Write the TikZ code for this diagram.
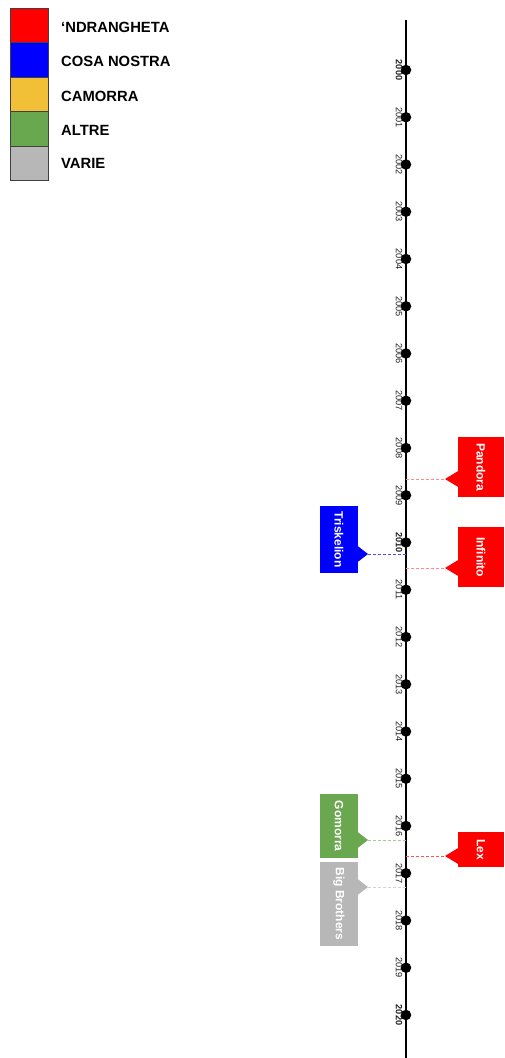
\documentclass[tikz,border=0pt]{standalone}
\usepackage{fontspec}
\setmainfont{Liberation Sans}
\definecolor{cNdr}{HTML}{FF0000}
\definecolor{cCosa}{HTML}{0000FF}
\definecolor{cCam}{HTML}{F2C037}
\definecolor{cAltre}{HTML}{6AA84F}
\definecolor{cVarie}{HTML}{B7B7B7}
\definecolor{cNdrL}{HTML}{FF8A8A}
\definecolor{cCosaL}{HTML}{4A4AFF}
\definecolor{cAltreL}{HTML}{A9CB9A}
\definecolor{cVarieL}{HTML}{D3D3D3}
\definecolor{cYear}{HTML}{222222}
\tikzset{
  legbox/.style={draw=black!75, line width=0.6pt, minimum width=38pt, minimum height=34.4pt, inner sep=0pt, anchor=north west},
  legtext/.style={anchor=west, inner sep=0pt, font=\fontsize{14.8}{16}\selectfont\bfseries},
  yeardot/.style={circle, fill=black, minimum size=10.5pt, inner sep=0pt},
  yearlab/.style={rotate=-90, anchor=north, inner sep=0pt, text=cYear, font=\fontsize{9.2}{10}\selectfont},
  yearlabb/.style={yearlab, font=\fontsize{9.2}{10}\selectfont\bfseries},
  callout/.style={rotate=-90, inner sep=0pt, text=white, font=\fontsize{12}{13}\selectfont\bfseries},
  conn/.style={dashed, dash pattern=on 3pt off 2pt, line width=0.8pt},
}
\begin{document}
\begin{tikzpicture}[x=1pt,y=-1pt]
\useasboundingbox (0,0) rectangle (504,1058);
% legend
\node[legbox, fill=cNdr] (l1) at (10,8) {};
\node[legbox, fill=cCosa] (l2) at (10,42.4) {};
\node[legbox, fill=cCam] (l3) at (10,76.8) {};
\node[legbox, fill=cAltre] (l4) at (10,111.2) {};
\node[legbox, fill=cVarie] (l5) at (10,145.6) {};
\node[legtext] (t1) at (61,27) {‘NDRANGHETA};
\node[legtext] (t2) at (61,61.5) {COSA NOSTRA};
\node[legtext] (t3) at (61,96) {CAMORRA};
\node[legtext] (t4) at (61,130) {ALTRE};
\node[legtext] (t5) at (61,163) {VARIE};
% timeline
\coordinate (top) at (406,20);
\coordinate (bot) at (406,1058);
\draw[line width=2pt] (top) -- (bot);
\foreach \yr in {2000,...,2020}{
  \pgfmathsetmacro{\yy}{70+(\yr-2000)*47.25}
  \ifnum\yr=2000 \node[yearlabb] (y\yr) at (402.5,\yy) {\yr};
  \else\ifnum\yr=2010 \node[yearlabb] (y\yr) at (402.5,\yy) {\yr};
  \else\ifnum\yr=2020 \node[yearlabb] (y\yr) at (402.5,\yy) {\yr};
  \else \node[yearlab] (y\yr) at (402.5,\yy) {\yr};
  \fi\fi\fi
  \node[yeardot] (d\yr) at (406,\yy) {};
}
% right callouts
\node[callout, fill=cNdr, minimum width=60pt, minimum height=46pt] (pandora) at (481,467) {Pandora};
\fill[cNdr] (459,470.5) -- (445,479) -- (459,487.5) -- cycle;
\coordinate (pandoraTip) at (445,479);
\coordinate (pandoraL) at (406,479);
\draw[conn, cNdrL] (pandoraL) -- (pandoraTip);

\node[callout, fill=cNdr, minimum width=60pt, minimum height=46pt] (infinito) at (481,557) {Infinito};
\fill[cNdr] (459,559.5) -- (445,568) -- (459,576.5) -- cycle;
\coordinate (infinitoTip) at (445,568);
\coordinate (infinitoL) at (406,568);
\draw[conn, cNdrL] (infinitoL) -- (infinitoTip);

\node[callout, fill=cNdr, minimum width=35pt, minimum height=46pt] (lex) at (481,849.5) {Lex};
\fill[cNdr] (459,847.5) -- (445,856) -- (459,864.5) -- cycle;
\coordinate (lexTip) at (445,856);
\coordinate (lexL) at (406,856);
\draw[conn, cNdrL!60!cNdr] (lexL) -- (lexTip);

% left callouts
\node[callout, fill=cCosa, minimum width=67pt, minimum height=38pt] (trisk) at (339,539.5) {Triskelion};
\fill[cCosa] (357,545.5) -- (368,554) -- (357,562.5) -- cycle;
\coordinate (triskTip) at (368,554);
\coordinate (triskL) at (406,554);
\draw[conn, cCosaL] (triskTip) -- (triskL);

\node[callout, fill=cAltre, minimum width=64pt, minimum height=38pt] (gomorra) at (339,826) {Gomorra};
\fill[cAltre] (357,831.5) -- (368,840) -- (357,848.5) -- cycle;
\coordinate (gomorraTip) at (368,840);
\coordinate (gomorraL) at (406,840);
\draw[conn, cAltreL] (gomorraTip) -- (gomorraL);

\node[callout, fill=cVarie, minimum width=84pt, minimum height=38pt] (bigbro) at (339,904) {Big Brothers};
\fill[cVarie] (357,878.5) -- (368,887) -- (357,895.5) -- cycle;
\coordinate (bigbroTip) at (368,887);
\coordinate (bigbroL) at (406,887);
\draw[conn, cVarieL] (bigbroTip) -- (bigbroL);
\end{tikzpicture}
\end{document}
